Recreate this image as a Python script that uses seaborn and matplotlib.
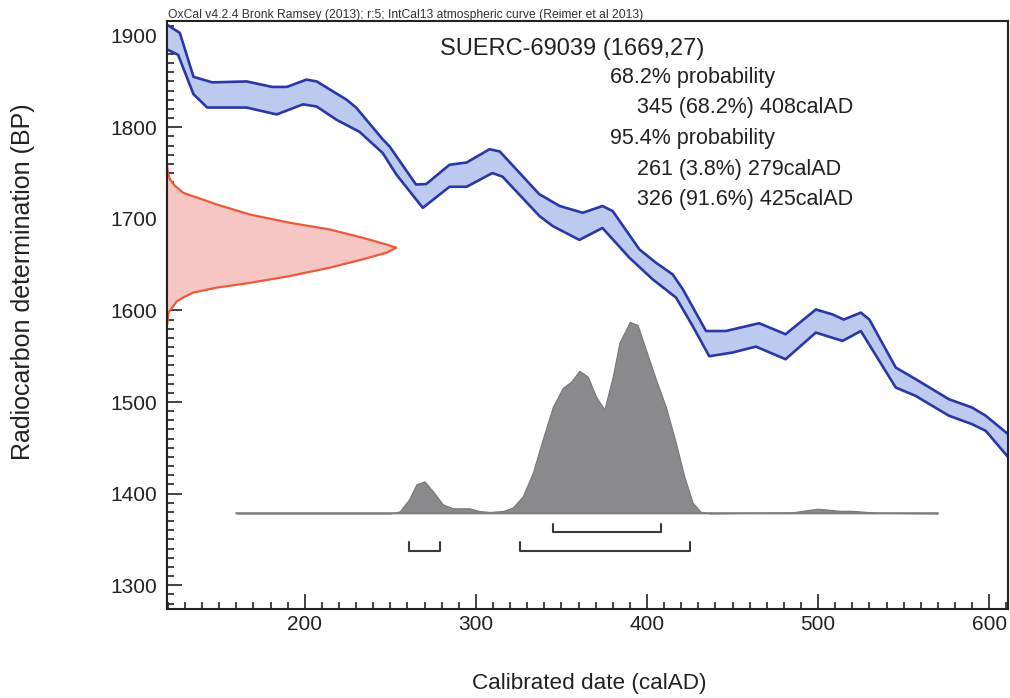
import numpy as np
import seaborn as sns
import matplotlib.pyplot as plt
from matplotlib.ticker import MultipleLocator

# IntCal13 calibration band (calAD, BP)
upper_year = [119.5, 127, 135, 146, 166, 181, 189.5, 201, 207, 224.5, 230, 245.5, 249.6, 265, 271,
              284.6, 294.6, 308, 314, 337, 349, 362.5, 374, 380, 395.6, 405.3, 415, 421, 434.5, 446,
              465.6, 481, 498.7, 508.4, 515, 525, 530, 545.4, 557, 576.5, 590, 598, 611]
upper_bp = [1912, 1903, 1855, 1849, 1850, 1844, 1844, 1852, 1850, 1830, 1821.5, 1787, 1779, 1737.5, 1738,
            1759, 1761.5, 1776, 1773.5, 1727, 1714, 1706.6, 1714, 1708.4, 1666.6, 1652, 1639.4, 1623, 1577.5, 1577.5,
            1586, 1574, 1601, 1595.7, 1590, 1597.6, 1590, 1537.6, 1525, 1503, 1494, 1485, 1465]
lower_year = [119.5, 126, 135, 143, 166, 183.6, 199, 207, 218.7, 232, 245.5, 253.7, 269, 284.6, 294.6,
              309.7, 315.6, 337.2, 345, 360.5, 374, 389.7, 403.3, 417, 426.7, 436.4, 450, 463.7, 481,
              498.7, 514.3, 525, 545.4, 557, 576.5, 590, 598, 611]
lower_bp = [1885, 1879, 1836, 1821.5, 1821.5, 1814, 1825, 1822.6, 1808, 1795, 1772, 1748, 1712, 1735, 1735,
            1750, 1746, 1703, 1692, 1677, 1690, 1657.6, 1634, 1614, 1583, 1550, 1554, 1560.5, 1546.7,
            1575.8, 1566.7, 1577.5, 1515.8, 1506.7, 1485, 1475.8, 1468.5, 1440]

# radiocarbon measurement 1669 +/- 27 BP, profile relative to its peak
c14_bp = [1759, 1750, 1743, 1736, 1728.5, 1715.7, 1704.8, 1695.7, 1688.4, 1679.4, 1672, 1668.5, 1663, 1655.7,
          1646.7, 1637.5, 1630, 1624.9, 1619.4, 1614, 1610, 1597.6, 1583]
c14_rel = [0, 0.004, 0.013, 0.035, 0.07, 0.217, 0.36, 0.535, 0.71, 0.852, 0.957, 1.0, 0.957, 0.852,
           0.71, 0.535, 0.36, 0.217, 0.113, 0.07, 0.043, 0.006, 0]

# calibrated date probability, relative to its peak
cal_year = [160, 250, 255.5, 261, 265.2, 270, 274.9, 280.7, 286.6, 296.3, 302, 308, 315.8, 321.6, 327.4,
            333.3, 339, 345, 350.8, 355.7, 360.5, 365.4, 370.3, 375.1, 380, 383.9, 390, 394.5, 399.4,
            405.3, 411, 416.9, 421.8, 426.7, 431.5, 436.4, 470, 485, 493, 500, 507, 513, 520, 527, 535, 570]
cal_rel = [0, 0, 0.01, 0.073, 0.151, 0.167, 0.115, 0.047, 0.026, 0.026, 0.012, 0.007, 0.012, 0.03, 0.089,
           0.212, 0.385, 0.557, 0.655, 0.688, 0.745, 0.714, 0.609, 0.542, 0.714, 0.891, 1.0, 0.984, 0.854,
           0.698, 0.557, 0.368, 0.193, 0.056, 0.007, 0, 0.003, 0.005, 0.016, 0.024, 0.018, 0.013, 0.013, 0.008, 0.002, 0]

range68 = [(345, 408)]
range95 = [(261, 279), (326, 425)]

header = "OxCal v4.2.4 Bronk Ramsey (2013); r:5; IntCal13 atmospheric curve (Reimer et al 2013)"
title = "SUERC-69039 (1669,27)"
info = ["68.2% probability", "345 (68.2%) 408calAD", "95.4% probability",
        "261 (3.8%) 279calAD", "326 (91.6%) 425calAD"]
info_indent = [0, 1, 0, 1, 1]

sns.set_theme(style="white")
plt.rcParams['font.family'] = ['Liberation Sans', 'DejaVu Sans']

fig = plt.figure(figsize=(10.1, 6.98), dpi=100)
ax = fig.add_axes([167 / 1010, 1 - 609 / 698, (1008 - 167) / 1010, (609 - 21) / 698])

xmin, xmax = 119.5, 611
ax.set_xlim(xmin, xmax)
ax.set_ylim(1274, 1916)

# measurement on the y axis
red_w = 134
ax.fill_betweenx(c14_bp, xmin, xmin + np.array(c14_rel) * red_w, color="#f6c6c5", lw=0)
ax.plot(xmin + np.array(c14_rel) * red_w, c14_bp, color="#ec5a3a", lw=1.6)

# calibration band
band_x = np.r_[upper_year, lower_year[::-1]]
band_y = np.r_[upper_bp, lower_bp[::-1]]
ax.fill(band_x, band_y, color="#bccaf0", lw=0)
sns.lineplot(x=upper_year, y=upper_bp, ax=ax, color="#2a37a6", lw=1.9, sort=False, estimator=None)
sns.lineplot(x=lower_year, y=lower_bp, ax=ax, color="#2a37a6", lw=1.9, sort=False, estimator=None)

# calibrated distribution
base, hist_h = 1378.5, 209
ax.fill_between(cal_year, base, base + np.array(cal_rel) * hist_h, color="#8a8a8d",
                edgecolor="#77777a", lw=0.8)
ax.plot([cal_year[0], cal_year[-1]], [base, base], color="#808080", lw=1.2)

# probability ranges
for lo, hi in range68:
    ax.plot([lo, lo, hi, hi], [base - 11.8, base - 20.8, base - 20.8, base - 11.8], color="#3a3a3a", lw=1.5)
for lo, hi in range95:
    ax.plot([lo, lo, hi, hi], [base - 31.5, base - 41.5, base - 41.5, base - 31.5], color="#3a3a3a", lw=1.5)

ax.xaxis.set_major_locator(MultipleLocator(100))
ax.xaxis.set_minor_locator(MultipleLocator(10))
ax.yaxis.set_major_locator(MultipleLocator(100))
ax.yaxis.set_minor_locator(MultipleLocator(10))
ax.tick_params(which="both", direction="in", left=True, bottom=True, top=False, right=False,
               color="#222222", width=1.2, labelsize=15, labelcolor="#222222")
ax.tick_params(which="major", length=11)
ax.tick_params(which="minor", length=5)
ax.tick_params(axis="y", pad=7)
ax.tick_params(axis="x", pad=4)
for s in ax.spines.values():
    s.set_color("#222222")
    s.set_linewidth(1.5)

fig.text(168 / 1010, 1 - 18 / 698, header, fontsize=8.7, color="#333333", va="baseline")
fig.text(440 / 1010, 1 - 55 / 698, title, fontsize=17, color="#222222", va="baseline")
for i, line in enumerate(info):
    fig.text((610 + 27 * info_indent[i]) / 1010, 1 - (83 + 30.5 * i) / 698, line, fontsize=15.5,
             color="#222222", va="baseline")

fig.text(589 / 1010, 1 - 689 / 698, "Calibrated date (calAD)", fontsize=16.2, color="#222222",
         ha="center", va="baseline")
fig.text(23 / 1010, 1 - 282 / 698, "Radiocarbon determination (BP)", fontsize=18, color="#222222",
         ha="center", va="center", rotation=90)

fig.savefig("out.png", dpi=100)
